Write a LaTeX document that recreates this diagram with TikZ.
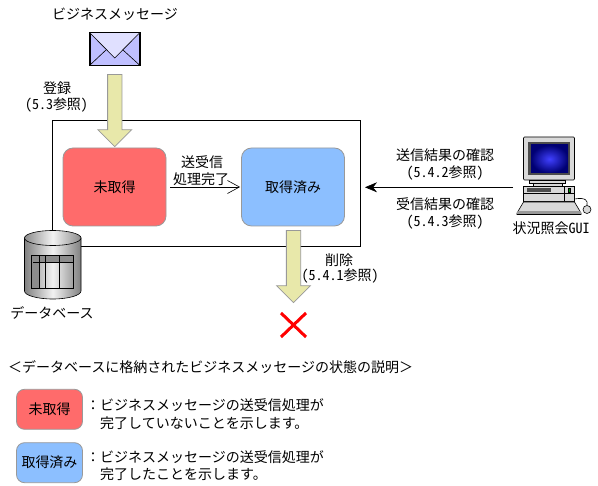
\documentclass[tikz,border=0pt]{standalone}
\usepackage{fontspec}
\setmainfont{Noto Sans CJK JP}
\newfontfamily\hwfont[RawFeature=+hwid]{Noto Sans CJK JP}
\newcommand{\hw}[1]{{\hwfont #1}}
\usetikzlibrary{positioning,arrows.meta,shapes.arrows}
\definecolor{redstate}{HTML}{FF6B6B}
\definecolor{bluestate}{HTML}{8CBFFF}
\definecolor{arrowfill}{HTML}{E8E8AA}
\definecolor{edgegray}{HTML}{999999}

\begin{document}
\begin{tikzpicture}[
    x=1pt, y=-1pt,
    statebox/.style={rectangle, rounded corners=10pt, draw=edgegray, thick, minimum width=103pt, minimum height=78pt, inner sep=0pt},
    legendbox/.style={rectangle, rounded corners=8pt, draw=edgegray, thick, minimum width=66pt, minimum height=40pt, inner sep=0pt},
    blockarrow/.style={single arrow, draw=edgegray, thick, fill=arrowfill, shape border rotate=270, minimum width=33pt, single arrow head extend=9.75pt, inner sep=6.75pt},
    note/.style={font=\fontsize{14}{16}\selectfont, inner sep=0pt},
    thinarrow/.style={-{Straight Barb[length=12pt,width=13pt]}, semithick},
    solidarrow/.style={-{Stealth[length=12pt,width=10pt]}, semithick},
    pcpart/.style={draw=black, fill=black!15, semithick}
]
\useasboundingbox (0,0) rectangle (598,486);

% Main frame
\node[rectangle, draw=black, semithick, minimum width=307.5pt, minimum height=126pt, inner sep=0pt] (frame) at (206.25,183.5) {};

% States
\node[statebox, fill=redstate] (unread) at (114.5,187) {};
\node[note] at (unread.center) {未取得};
\node[statebox, fill=bluestate] (read) at (293,187) {};
\node[note] at (read.center) {取得済み};
\draw[thinarrow] ([xshift=4pt]unread.east) -- ([xshift=-1pt]read.west);
\node[note] (donea) at (202,162) {送受信};
\node[note] (doneb) at (201,179) {処理完了};

% Business message
\node[note] (msglabel) at (115,14) {ビジネスメッセージ};
\node[rectangle, draw=black, thick, fill=blue!25, minimum width=49.5pt, minimum height=32pt, inner sep=0pt] (mail) at (114.75,49) {};
\fill[blue!12] (mail.north west) -- (114.75,58) -- (mail.north east) -- cycle;
\draw[semithick] (mail.north west) -- (114.75,58) -- (mail.north east);
\draw[semithick] (mail.south west) -- (106,50);
\draw[semithick] (mail.south east) -- (123,50);
\draw[thick] (mail.south west) rectangle (mail.north east);

% Register arrow
\node[blockarrow, minimum height=72pt] (regarrow) at (114.75,107) {};
\node[note] (regtext) at (57,88) {登録};
\node[note] (regref) at (56.5,105) {\hw{(5.3}参照\hw{)}};

% Delete arrow
\node[blockarrow, minimum height=72pt] (delarrow) at (293.5,263) {};
\node[note] (deltext) at (339,260) {削除};
\node[note] (delref) at (340,276) {\hw{(5.4.1}参照\hw{)}};
\draw[red, line width=3pt] (281,313) -- (306,337);
\draw[red, line width=3pt] (306,313) -- (281,337);

% Database
\shade[left color=black!50, right color=black!50, middle color=black!5, draw=black, semithick]
    (24.5,238) -- (24.5,291) arc[start angle=180, end angle=360, x radius=28.25pt, y radius=8pt] -- (81,238) -- cycle;
\shade[left color=black!45, right color=black!45, middle color=black!5, draw=black, semithick]
    (52.75,238) ellipse[x radius=28.25pt, y radius=7.5pt];
\fill[black!45] (31.7,255.7) rectangle (73.3,262.3);
\fill[black!45] (31.7,262.3) rectangle (39.3,288);
\draw[thick] (31.7,255.7) rectangle (73.3,288);
\draw[semithick] (33,262.3) -- (73.3,262.3);
\draw[semithick] (39.3,255.7) -- (39.3,288);
\draw[semithick] (45.3,255.7) -- (45.3,288);
\draw[semithick] (59.3,255.7) -- (59.3,288);
\node[note] (dblabel) at (52,313) {データベース};

% Status GUI
\draw[pcpart] (529,180) rectangle (565,183);
\draw[pcpart] (533,183) rectangle (562,186);
\draw[pcpart, rounded corners=1pt] (523.5,137) rectangle (574.5,180);
\fill[black!70] (528,142) rectangle (570,175);
\shade[inner color=blue!75!white, outer color=blue!45!black] (531,145) rectangle (568,173);
\draw[pcpart] (523.5,186) rectangle (574.5,201);
\draw[semithick] (523.5,193.5) -- (574.5,193.5);
\draw[semithick] (564,186) -- (564,201);
\fill[black!70] (527,188.5) rectangle (551,192);
\draw[black, fill=green!60!black] (568.5,188) rectangle (570.5,192);
\draw[pcpart] (517,213) -- (523.5,202) -- (574.5,202) -- (581,213) -- (581,214.5) -- (517,214.5) -- cycle;
\fill[black!40] (517,211) -- (581,211) -- (581,214.5) -- (517,214.5) -- cycle;
\draw[semithick] (574.5,199) .. controls (586,197) and (588,201) .. (587,205);
\draw[pcpart] (587,209.5) ellipse[x radius=4pt, y radius=4pt];
\coordinate (pcport) at (513,187.3);
\coordinate (frameport) at (365,187.3);
\draw[solidarrow] (pcport) -- (frameport);
\node[note] (pclabel) at (551,228) {状況照会\hw{GUI}};
\node[note] (senttext) at (445,155) {送信結果の確認};
\node[note] (sentref) at (445,173) {\hw{(5.4.2}参照\hw{)}};
\node[note] (recvtext) at (445,204) {受信結果の確認};
\node[note] (recvref) at (445,222) {\hw{(5.4.3}参照\hw{)}};

% Legend
\node[note, anchor=west] (legendtitle) at (8,367) {＜データベースに格納されたビジネスメッセージの状態の説明＞};
\node[legendbox, fill=redstate] (keyunread) at (49.5,409.3) {};
\node[note] at (keyunread.center) {未取得};
\node[legendbox, fill=bluestate] (keyread) at (49.5,462.7) {};
\node[note] at (keyread.center) {取得済み};
\node[note, anchor=west] (unreada) at (86,405) {：ビジネスメッセージの送受信処理が};
\node[note, anchor=west] (unreadb) at (100,423) {完了していないことを示します。};
\node[note, anchor=west] (reada) at (86,457) {：ビジネスメッセージの送受信処理が};
\node[note, anchor=west] (readb) at (100,474) {完了したことを示します。};

\end{tikzpicture}
\end{document}
